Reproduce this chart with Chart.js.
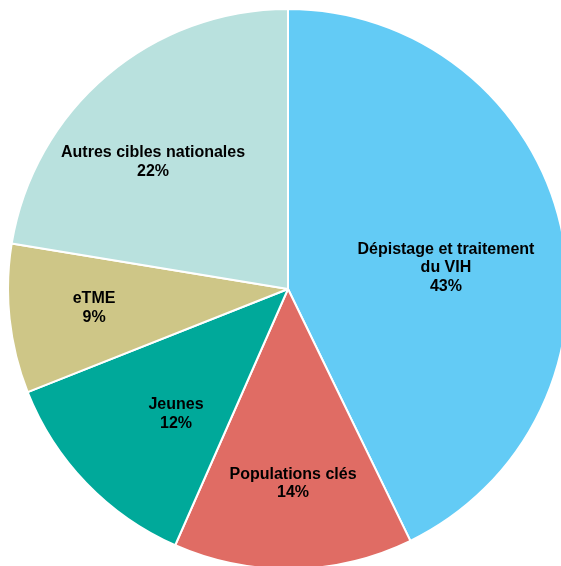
<!DOCTYPE html>
<html>
<head>
<meta charset="utf-8">
<script src="https://cdn.jsdelivr.net/npm/chart.js@4"></script>
<style>
  html, body { margin: 0; padding: 0; background: #fff; overflow: hidden; }
  #wrap { position: absolute; left: 7px; top: 8px; width: 562px; height: 562px; }
</style>
</head>
<body>
<div id="wrap"><canvas id="pieChart"></canvas></div>
<script>
// Chart data
const categories = [
  ['Dépistage et traitement', 'du VIH'],
  ['Populations clés'],
  ['Jeunes'],
  ['eTME'],
  ['Autres cibles nationales']
];
const shares = [42.8, 13.8, 12.4, 8.6, 22.4];

const colors = ['#63CBF5', '#E06C64', '#00A99A', '#CEC687', '#B9E1DE'];
// label placement: [fraction of radius, angle tweak in degrees]
const labelPlace = [[0.569, 5.4], [0.696, -0.4], [0.599, -4.2], [0.696, 0.5], [0.662, -6.4]];

// Draws the category + percent labels inside the slices
const sliceLabels = {
  id: 'sliceLabels',
  afterDatasetsDraw(chart) {
    const ctx = chart.ctx;
    const meta = chart.getDatasetMeta(0);
    const total = shares.reduce((a, b) => a + b, 0);
    ctx.save();
    ctx.font = 'bold 16px "Liberation Sans", Arial, sans-serif';
    ctx.fillStyle = '#000';
    ctx.textAlign = 'center';
    ctx.textBaseline = 'middle';
    meta.data.forEach((arc, i) => {
      const mid = (arc.startAngle + arc.endAngle) / 2 + labelPlace[i][1] * Math.PI / 180;
      const r = arc.outerRadius * labelPlace[i][0];
      const x = arc.x + Math.cos(mid) * r;
      const y = arc.y + Math.sin(mid) * r;
      const lines = categories[i].concat([Math.round(shares[i] / total * 100) + '%']);
      const lh = 18.5;
      lines.forEach((t, j) => {
        ctx.fillText(t, x, y + (j - (lines.length - 1) / 2) * lh);
      });
    });
    ctx.restore();
  }
};

new Chart(document.getElementById('pieChart'), {
  type: 'pie',
  data: {
    labels: categories.map(c => c.join(' ')),
    datasets: [{
      data: shares,
      backgroundColor: colors,
      borderColor: '#fff',
      borderWidth: 2
    }]
  },
  options: {
    responsive: true,
    maintainAspectRatio: false,
    animation: false,
    layout: { padding: 0 },
    plugins: {
      legend: { display: false },
      tooltip: { enabled: false }
    }
  },
  plugins: [sliceLabels]
});
</script>
</body>
</html>
